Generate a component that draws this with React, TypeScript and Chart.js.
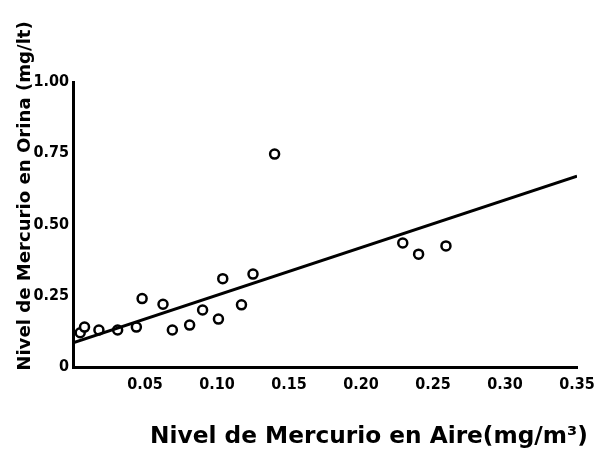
import React, { useEffect, useRef } from "react";
import { Chart, registerables } from "chart.js";

Chart.register(...registerables);

const airLevels = [0.005, 0.008, 0.018, 0.031, 0.044, 0.048, 0.0625, 0.069, 0.081, 0.09, 0.101, 0.104, 0.117, 0.125, 0.14, 0.229, 0.24, 0.259];
const urineLevels = [0.12, 0.14, 0.13, 0.13, 0.14, 0.24, 0.22, 0.13, 0.147, 0.2, 0.168, 0.31, 0.218, 0.326, 0.747, 0.435, 0.396, 0.425];
const fitX = [0, 0.35];
const fitY = [0.085, 0.67];
const xTicks = [0, 0.05, 0.1, 0.15, 0.2, 0.25, 0.3, 0.35];
const xTickLabels = ["", "0.05", "0.10", "0.15", "0.20", "0.25", "0.30", "0.35"];
const yTicks = [0, 0.25, 0.5, 0.75, 1.0];
const yTickLabels = ["0", "0.25", "0.50", "0.75", "1.00"];
const xTitle = "Nivel de Mercurio en Aire(mg/m³)";
const yTitle = "Nivel de Mercurio en Orina (mg/lt)";

const FONT = "'DejaVu Sans Condensed', 'DejaVu Sans', sans-serif";
const TITLE_FONT = "'DejaVu Sans', sans-serif";

export default function App() {
  const ref = useRef<HTMLCanvasElement | null>(null);
  useEffect(() => {
    const canvas = ref.current;
    if (!canvas) return;
    const fitFont = (ctx: CanvasRenderingContext2D, text: string, target: number) => {
      ctx.font = `bold 20px ${TITLE_FONT}`;
      const w = ctx.measureText(text).width;
      const size = (20 * target) / w;
      ctx.font = `bold ${size.toFixed(2)}px ${TITLE_FONT}`;
    };
    const titlePlugin = {
      id: "titles",
      afterDraw(chart: any) {
        const ctx = chart.ctx as CanvasRenderingContext2D;
        ctx.save();
        ctx.fillStyle = "#000";
        ctx.textAlign = "center";
        ctx.textBaseline = "middle";
        fitFont(ctx, xTitle, 438);
        ctx.fillText(xTitle, 369, 437);
        ctx.translate(25, 196);
        ctx.rotate(-Math.PI / 2);
        fitFont(ctx, yTitle, 350);
        ctx.fillText(yTitle, 0, 0);
        ctx.restore();
      },
    };
    const chart = new Chart(canvas, {
      type: "scatter",
      data: {
        datasets: [
          {
            type: "line",
            data: fitX.map((x, i) => ({ x, y: fitY[i] })),
            borderColor: "#000",
            borderWidth: 3,
            pointRadius: 0,
            fill: false,
          } as any,
          {
            data: airLevels.map((x, i) => ({ x, y: urineLevels[i] })),
            backgroundColor: "#fff",
            borderColor: "#000",
            borderWidth: 2.5,
            pointRadius: 4.5,
          },
        ],
      },
      options: {
        animation: false,
        responsive: false,
        layout: { padding: { left: 0, right: 24, top: 82, bottom: 0 } },
        plugins: { legend: { display: false }, tooltip: { enabled: false } },
        scales: {
          x: {
            type: "linear",
            min: 0,
            max: 0.35,
            afterFit(scale: any) {
              scale.height = 95;
            },
            afterBuildTicks(scale: any) {
              scale.ticks = xTicks.map((v) => ({ value: v }));
            },
            grid: {
              display: false,
              drawTicks: true,
              tickLength: 5,
              tickWidth: 2,
              tickColor: "#000",
            },
            border: { display: true, color: "#000", width: 3 },
            ticks: {
              color: "#000",
              padding: 3,
              maxRotation: 0,
              autoSkip: false,
              font: { family: FONT, size: 16, weight: "bold" },
              callback: (v: any) => {
                const i = xTicks.findIndex((t) => Math.abs(t - Number(v)) < 1e-9);
                return i >= 0 ? xTickLabels[i] : "";
              },
            },
          },
          y: {
            type: "linear",
            min: 0,
            max: 1,
            afterFit(scale: any) {
              scale.width = 73;
            },
            afterBuildTicks(scale: any) {
              scale.ticks = yTicks.map((v) => ({ value: v }));
            },
            grid: {
              display: false,
              drawTicks: true,
              tickLength: 4,
              tickWidth: 2,
              tickColor: "#000",
            },
            border: { display: true, color: "#000", width: 3 },
            ticks: {
              color: "#000",
              padding: 0,
              autoSkip: false,
              font: { family: FONT, size: 16, weight: "bold" },
              callback: (v: any) => {
                const i = yTicks.findIndex((t) => Math.abs(t - Number(v)) < 1e-9);
                return i >= 0 ? yTickLabels[i] : "";
              },
            },
          },
        },
      },
      plugins: [titlePlugin],
    });
    return () => chart.destroy();
  }, []);
  return (
    <div style={{ position: "fixed", left: 0, top: 0, width: 601, height: 462, background: "#fff" }}>
      <canvas ref={ref} width={601} height={462} style={{ width: 601, height: 462 }} />
    </div>
  );
}
